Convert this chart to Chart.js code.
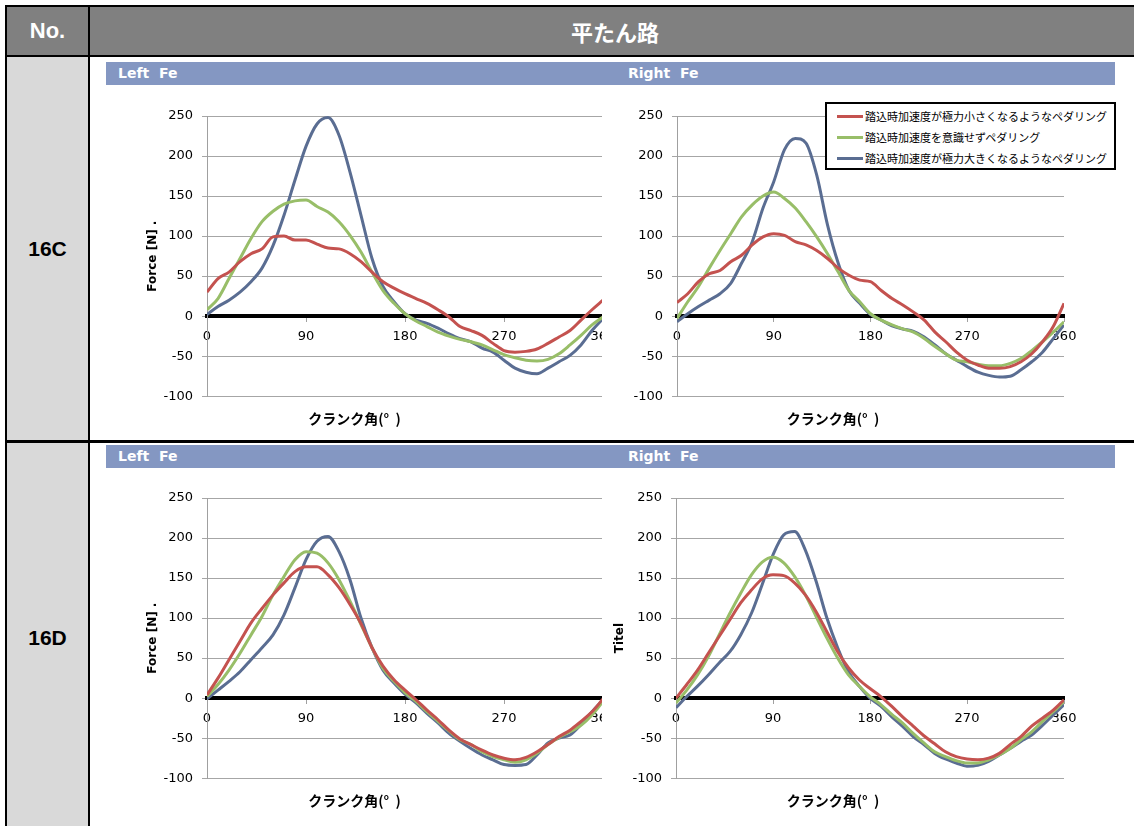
<!DOCTYPE html>
<html lang="ja">
<head>
<meta charset="UTF-8">
<title>平たん路 Fe</title>
<script src="https://cdn.jsdelivr.net/npm/chart.js@4.4.1/dist/chart.umd.min.js"></script>
<style>
    html, body { margin: 0; padding: 0; background: #fff; }
    body { width: 1134px; height: 826px; position: relative; overflow: hidden; font-family: "Liberation Sans", Arial, sans-serif; }
    .abs { position: absolute; }
    .hdr { background: #808080; color: #fff; font-weight: bold; display: flex; align-items: center; justify-content: center; }
    .nocell { background: #d9d9d9; display: flex; align-items: center; justify-content: center; font-weight: bold; font-size: 21px; color: #000; }
    .bar { background: #8497c2; color: #fff; font-family: "DejaVu Sans", Verdana, sans-serif; font-weight: bold; font-size: 14px; white-space: pre; }
    .bar span { position: absolute; top: 3px; }
    canvas { position: absolute; background: #fff; }
    #legend { left: 825px; top: 102px; width: 287px; height: 64px; border: 2px solid #000; background: #fff; font-family: "Noto Sans CJK JP", sans-serif; font-size: 11px; color: #000; }
    #legend .row { position: absolute; left: 10px; height: 16px; display: flex; align-items: center; }
    #legend .sw { width: 26px; height: 3px; margin-right: 2px; }
</style>
</head>
<body>
    <!-- table frame -->
    <div class="abs" style="left:5px;top:5px;width:1140px;height:830px;background:#000;"></div>
    <div class="abs hdr" style="left:7px;top:7px;width:81px;height:48px;font-size:22px;">No.</div>
    <div class="abs hdr" style="left:90px;top:7px;width:1050px;height:48px;font-size:22px;font-family:'Noto Sans CJK JP',sans-serif;">平たん路</div>
    <div class="abs nocell" style="left:7px;top:57px;width:81px;height:383px;">16C</div>
    <div class="abs" style="left:90px;top:57px;width:1050px;height:383px;background:#fff;"></div>
    <div class="abs nocell" style="left:7px;top:443px;width:81px;height:390px;">16D</div>
    <div class="abs" style="left:90px;top:443px;width:1050px;height:390px;background:#fff;"></div>

    <!-- title bars -->
    <div class="abs bar" style="left:106px;top:62px;width:1009px;height:23px;"><span style="left:12px;">Left  Fe</span><span style="left:522px;">Right  Fe</span></div>
    <div class="abs bar" style="left:106px;top:445px;width:1009px;height:23px;"><span style="left:12px;">Left  Fe</span><span style="left:522px;">Right  Fe</span></div>

    <canvas id="c16L" width="509" height="350" style="left:106px;top:88px;"></canvas>
    <canvas id="c16R" width="513" height="350" style="left:602px;top:88px;"></canvas>
    <canvas id="d16L" width="509" height="350" style="left:106px;top:470px;"></canvas>
    <canvas id="d16R" width="513" height="350" style="left:602px;top:470px;"></canvas>

    <div id="legend" class="abs"></div>

<script>
    // クランク角 (deg)
    const crankAngles = [0, 10, 20, 30, 40, 50, 60, 70, 80, 90, 100, 110, 120, 130, 140, 150, 160, 170, 180,
                         190, 200, 210, 220, 230, 240, 250, 260, 270, 280, 290, 300, 310, 320, 330, 340, 350, 360];

    const seriesLabels = ['踏込時加速度が極力小さくなるようなペダリング', '踏込時加速度を意識せずペダリング', '踏込時加速度が極力大きくなるようなペダリング'];
    const seriesColors = ['#c4524f', '#98be68', '#5a6d92'];

    const yTicks = [-100, -50, 0, 50, 100, 150, 200, 250];
    const xTicks = [0, 90, 180, 270, 360];

    // 16C Left Fe
    const c16L_small = [30, 47, 55, 68, 78, 84, 99, 100, 95, 95, 90, 85, 84, 78, 68, 55, 43, 35, 28,
                        22, 16, 8, -1, -13, -18, -24, -34, -43, -45, -44, -41, -34, -26, -18, -5, 8, 20];
    const c16L_free  = [8, 22, 47, 72, 97, 118, 131, 140, 144, 145, 137, 130, 118, 101, 80, 55, 32, 16, 3,
                        -6, -13, -20, -25, -29, -32, -36, -42, -48, -52, -55, -56, -54, -47, -36, -24, -11, -1];
    const c16L_large = [2, 12, 20, 30, 43, 60, 88, 126, 170, 212, 240, 248, 226, 180, 126, 72, 37, 18, 3,
                        -5, -9, -15, -22, -28, -32, -40, -45, -55, -65, -70, -72, -65, -57, -49, -36, -18, -3];

    // 16C Right Fe
    const c16R_small = [17, 28, 43, 53, 57, 68, 76, 89, 99, 103, 101, 93, 89, 82, 72, 60, 51, 45, 43,
                        32, 22, 14, 5, -5, -20, -32, -45, -55, -61, -65, -65, -63, -57, -47, -32, -13, 16];
    const c16R_free  = [-3, 18, 37, 60, 82, 103, 124, 139, 150, 155, 147, 135, 118, 99, 78, 55, 32, 18, 3,
                        -5, -11, -16, -20, -28, -38, -47, -55, -57, -60, -62, -62, -59, -53, -43, -32, -20, -7];
    const c16R_large = [-7, 3, 12, 20, 28, 41, 66, 93, 135, 168, 208, 222, 216, 176, 114, 66, 32, 16, 2,
                        -5, -12, -16, -19, -26, -36, -47, -55, -63, -70, -74, -76, -75, -67, -57, -45, -28, -11];

    // 16D Left Fe
    const d16L_small = [4, 25, 48, 71, 94, 112, 129, 144, 158, 164, 164, 154, 138, 117, 93, 63, 40, 23, 10,
                        -2, -15, -27, -40, -51, -58, -65, -71, -75, -77, -74, -67, -58, -48, -40, -29, -17, -1];
    const d16L_free  = [2, 17, 35, 56, 79, 102, 129, 152, 173, 183, 181, 169, 148, 121, 92, 63, 37, 21, 7,
                        -4, -17, -29, -41, -52, -58, -67, -73, -77, -80, -77, -69, -58, -49, -42, -34, -21, -4];
    const d16L_large = [-1, 10, 21, 33, 48, 63, 79, 104, 138, 173, 196, 202, 183, 148, 100, 63, 35, 19, 5,
                        -6, -19, -31, -44, -54, -63, -71, -77, -83, -84, -83, -71, -56, -50, -46, -33, -17, -2];

    // 16D Right Fe
    const d16R_small = [0, 17, 35, 56, 77, 98, 119, 135, 149, 154, 153, 144, 129, 108, 83, 58, 38, 23, 12,
                        2, -10, -23, -35, -47, -57, -67, -73, -76, -77, -75, -69, -58, -48, -35, -25, -15, -2];
    const d16R_free  = [-6, 10, 29, 52, 79, 106, 131, 154, 170, 176, 169, 152, 129, 102, 75, 50, 29, 15, 2,
                        -8, -20, -31, -44, -56, -67, -73, -78, -81, -81, -77, -71, -63, -52, -42, -29, -17, -4];
    const d16R_large = [-12, 2, 15, 29, 44, 58, 79, 106, 142, 179, 204, 208, 185, 146, 100, 63, 33, 15, 0,
                        -10, -23, -35, -48, -58, -69, -76, -81, -85, -84, -79, -71, -63, -54, -46, -34, -21, -8];

    function toPoints(values) {
        return crankAngles.map((a, i) => ({ x: a, y: values[i] }));
    }

    function makeChart(id, series, axisWidth, padRight, yTitle, yTitleOffset) {
        new Chart(document.getElementById(id), {
            type: 'line',
            data: {
                datasets: series.map((vals, i) => ({
                    label: seriesLabels[i],
                    data: toPoints(vals),
                    borderColor: seriesColors[i],
                    borderWidth: 3,
                    pointRadius: 0,
                    cubicInterpolationMode: 'monotone',
                    fill: false
                }))
            },
            options: {
                responsive: false,
                animation: false,
                devicePixelRatio: 1,
                layout: { padding: { top: 28, right: padRight, left: 0, bottom: 0 } },
                plugins: {
                    legend: { display: false },
                    tooltip: { enabled: false },
                    title: {
                        display: true,
                        position: 'bottom',
                        text: 'クランク角(°  )',
                        color: '#000',
                        font: { family: 'Noto Sans CJK JP', size: 14, weight: 'bold' },
                        padding: { top: 14, bottom: 11 }
                    }
                },
                scales: {
                    x: {
                        type: 'linear',
                        position: { y: 0 },
                        min: 0,
                        max: 360,
                        afterBuildTicks: s => { s.ticks = xTicks.map(v => ({ value: v })); },
                        afterFit: s => { s.paddingLeft = 0; s.paddingRight = 0; },
                        ticks: { color: '#000', padding: 9, maxRotation: 0, font: { family: 'DejaVu Sans', size: 13 } },
                        grid: { drawOnChartArea: false, drawTicks: true, tickLength: 4, color: '#a0a0a0' },
                        border: { color: '#000', width: 4 }
                    },
                    y: {
                        min: -100,
                        max: 250,
                        afterBuildTicks: s => { s.ticks = yTicks.map(v => ({ value: v })); },
                        afterFit: s => { s.width = axisWidth; s.paddingTop = 0; s.paddingBottom = 0; },
                        ticks: { color: '#000', padding: 9, font: { family: 'DejaVu Sans', size: 13 } },
                        grid: { color: '#a6a6a6', lineWidth: 1, tickLength: 5 },
                        border: { color: '#a0a0a0', width: 1 },
                        title: {
                            display: !!yTitle,
                            text: yTitle || '',
                            color: '#000',
                            font: { family: 'DejaVu Sans', size: 12, weight: 'bold' },
                            padding: { top: yTitleOffset || 0, bottom: 0 }
                        }
                    }
                }
            }
        });
    }

    makeChart('c16L', [c16L_small, c16L_free, c16L_large], 101, 12, 'Force [N] .', 40);
    makeChart('c16R', [c16R_small, c16R_free, c16R_large], 75, 51, '', 0);
    makeChart('d16L', [d16L_small, d16L_free, d16L_large], 101, 12, 'Force [N] .', 40);
    makeChart('d16R', [d16R_small, d16R_free, d16R_large], 74, 51, 'Titel', 11);

    // 凡例
    const legend = document.getElementById('legend');
    seriesLabels.forEach((lbl, i) => {
        const row = document.createElement('div');
        row.className = 'row';
        row.style.top = (4 + i * 21) + 'px';
        row.innerHTML = '<div class="sw" style="background:' + seriesColors[i] + '"></div><span>' + lbl + '</span>';
        legend.appendChild(row);
    });
</script>
</body>
</html>
